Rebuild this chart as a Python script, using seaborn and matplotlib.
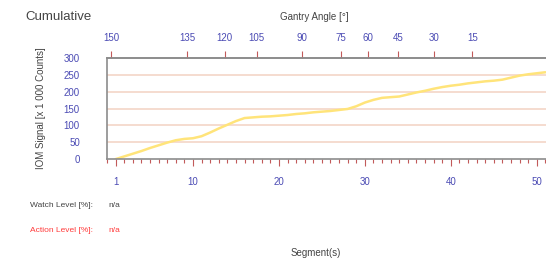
import numpy as np
import pandas as pd
import seaborn as sns
import matplotlib.pyplot as plt
from matplotlib.ticker import MultipleLocator, FixedLocator

# Dados
segments = list(range(1, 52))
signal = [0, 8, 16, 24, 33, 41, 49, 56, 60, 62,
          68, 79, 91, 102, 113, 122, 124, 126, 127, 129,
          131, 134, 136, 139, 141, 143, 146, 149, 157, 168,
          176, 182, 184, 186, 192, 198, 203, 209, 214, 218,
          221, 225, 228, 231, 233, 236, 242, 248, 252, 255, 258]
angle_labels = ['150', '135', '120', '105', '90', '75', '60', '45', '30', '15']
angle_pos = [0.45, 9.3, 13.7, 17.4, 22.7, 27.2, 30.4, 33.9, 38.0, 42.5]
seg_ticks = [1, 10, 20, 30, 40, 50]

df = pd.DataFrame({'segment': segments, 'signal': signal})

sns.set_style('white')
plt.rcParams['font.family'] = ['Liberation Sans', 'DejaVu Sans']

blue = '#4b4bb4'
red_tick = '#c25a5a'
grid_col = '#f5dccf'
spine_col = '#8c8c8c'

fig = plt.figure(figsize=(5.46, 2.63), dpi=100)
ax = fig.add_axes([0.196, 0.395, 0.806, 0.384])

for v in [50, 100, 150, 200, 250]:
    ax.axhline(v, color=grid_col, lw=1.4, zorder=0)

sns.lineplot(data=df, x='segment', y='signal', ax=ax, color='#ffe47a', lw=1.8)

ax.set_xlim(0, 51.2)
ax.set_ylim(0, 300)
ax.set_xlabel('')
ax.set_ylabel('IOM Signal [x 1 000 Counts]', fontsize=7, color='#444444', labelpad=13)

ax.xaxis.set_major_locator(FixedLocator(seg_ticks))
ax.xaxis.set_minor_locator(MultipleLocator(1))
ax.yaxis.set_major_locator(MultipleLocator(50))
ax.yaxis.set_minor_locator(MultipleLocator(6.25))
ax.tick_params(axis='x', which='major', length=5, width=0.8, color=red_tick,
               labelcolor=blue, labelsize=7, pad=8, direction='out')
ax.tick_params(axis='x', which='minor', length=3, width=0.8, color=red_tick, direction='out')
ax.tick_params(axis='y', which='major', length=7, width=0.8, color=red_tick,
               labelcolor=blue, labelsize=7, pad=16, direction='inout')
ax.tick_params(axis='y', which='minor', length=5, width=0.6, color=red_tick, direction='inout')

for s in ['left', 'bottom', 'top']:
    ax.spines[s].set_color(spine_col)
    ax.spines[s].set_linewidth(1.2)
ax.spines['right'].set_visible(False)

# Eixo superior: ângulo do gantry
ax2 = ax.twiny()
ax2.set_xlim(ax.get_xlim())
ax2.set_xticks(angle_pos)
ax2.set_xticklabels(angle_labels)
ax2.tick_params(axis='x', length=5, width=0.8, color=red_tick, labelcolor=blue,
                labelsize=7, pad=6, direction='out')
for s in ['left', 'bottom', 'right']:
    ax2.spines[s].set_visible(False)
ax2.spines['top'].set_color(spine_col)
ax2.spines['top'].set_linewidth(1.2)

fig.text(0.046, 0.935, 'Cumulative', fontsize=9.5, color='#444444', va='center')
fig.text(0.575, 0.935, 'Gantry Angle [°]', fontsize=7, color='#444444', va='center', ha='center')
fig.text(0.055, 0.22, 'Watch Level [%]:', fontsize=6, color='#444444', va='center')
fig.text(0.198, 0.22, 'n/a', fontsize=6, color='#444444', va='center')
fig.text(0.055, 0.125, 'Action Level [%]:', fontsize=6, color='#ff3b3b', va='center')
fig.text(0.198, 0.125, 'n/a', fontsize=6, color='#ff3b3b', va='center')
fig.text(0.578, 0.038, 'Segment(s)', fontsize=7, color='#444444', va='center', ha='center')

fig.savefig('out.png', dpi=100)
